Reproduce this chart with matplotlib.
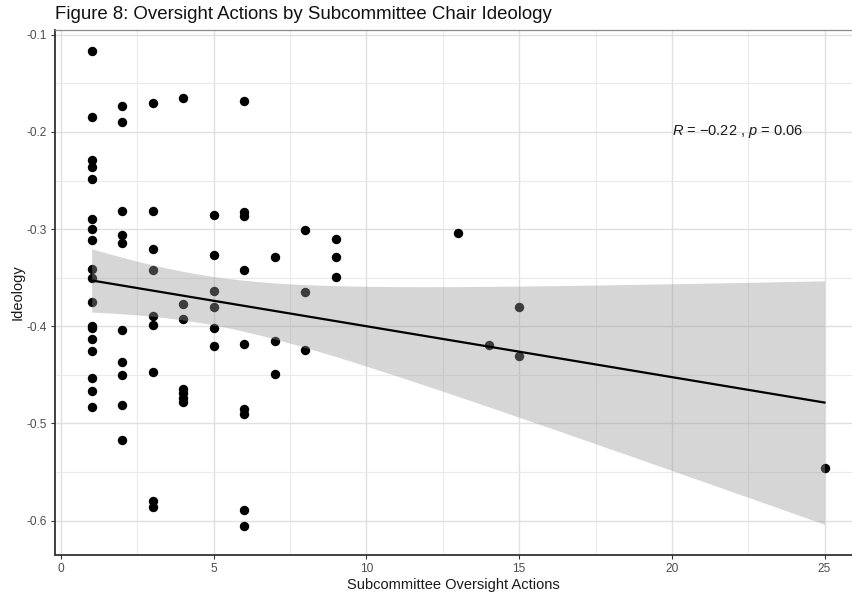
import numpy as np
import matplotlib
matplotlib.use("Agg")
import matplotlib.pyplot as plt
from matplotlib.ticker import MultipleLocator

plt.rcParams['font.family'] = ['Liberation Sans', 'DejaVu Sans']
plt.rcParams['mathtext.fontset'] = 'custom'
plt.rcParams['mathtext.rm'] = 'Liberation Sans'
plt.rcParams['mathtext.it'] = 'Liberation Sans:italic'

# oversight actions per subcommittee chair and the chair's ideology score
actions_1 = [1] * 18
ideology_1 = [-0.117, -0.185, -0.229, -0.236, -0.248, -0.290, -0.300, -0.311, -0.341,
              -0.350, -0.375, -0.400, -0.402, -0.413, -0.425, -0.453, -0.467, -0.483]
actions_2 = [2] * 10
ideology_2 = [-0.173, -0.190, -0.281, -0.306, -0.314, -0.404, -0.437, -0.450, -0.481, -0.517]
actions_3 = [3] * 9
ideology_3 = [-0.170, -0.281, -0.320, -0.342, -0.389, -0.399, -0.447, -0.580, -0.586]
actions_4 = [4] * 7
ideology_4 = [-0.165, -0.377, -0.392, -0.465, -0.469, -0.474, -0.478]
actions_5 = [5] * 6
ideology_5 = [-0.285, -0.327, -0.364, -0.380, -0.402, -0.420]
actions_6 = [6] * 9
ideology_6 = [-0.168, -0.282, -0.286, -0.342, -0.418, -0.485, -0.490, -0.589, -0.606]
actions_7_9 = [7, 7, 7, 8, 8, 8, 9, 9, 9]
ideology_7_9 = [-0.329, -0.415, -0.449, -0.301, -0.365, -0.424, -0.310, -0.329, -0.349]
actions_high = [13, 14, 15, 15, 25]
ideology_high = [-0.304, -0.419, -0.380, -0.431, -0.546]

cor_label = r"$R$ = −0.22 , $p$ = 0.06"

x = np.array(actions_1 + actions_2 + actions_3 + actions_4 + actions_5 + actions_6
             + actions_7_9 + actions_high, dtype=float)
y = np.array(ideology_1 + ideology_2 + ideology_3 + ideology_4 + ideology_5 + ideology_6
             + ideology_7_9 + ideology_high)

# linear fit with 95% confidence band
n = len(x)
slope, intercept = np.polyfit(x, y, 1)
resid = y - (intercept + slope * x)
s = np.sqrt(np.sum(resid ** 2) / (n - 2))
xbar = x.mean()
sxx = np.sum((x - xbar) ** 2)
try:
    from scipy import stats
    tcrit = stats.t.ppf(0.975, n - 2)
except ImportError:
    tcrit = 1.994
xs = np.linspace(x.min(), x.max(), 80)
ys = intercept + slope * xs
half = tcrit * s * np.sqrt(1 / n + (xs - xbar) ** 2 / sxx)

fig = plt.figure(figsize=(8.52, 5.97), dpi=100)
ax = fig.add_axes([0.0646, 0.071, 0.9354, 0.879])

ax.scatter(x, y, s=46, color='black', zorder=3, linewidths=0)
ax.fill_between(xs, ys - half, ys + half, color='#999999', alpha=0.4, linewidth=0, zorder=4)
ax.plot(xs, ys, color='black', lw=1.6, zorder=5)

ax.text(20, -0.2, cor_label, fontsize=10.5, color='#1a1a1a', ha='left', va='center', zorder=6)

ax.set_xlim(-0.2, 25.9)
ax.set_ylim(-0.635, -0.0949)
ax.xaxis.set_major_locator(MultipleLocator(5))
ax.xaxis.set_minor_locator(MultipleLocator(2.5))
ax.yaxis.set_minor_locator(MultipleLocator(0.05))
ax.set_yticks([-0.1, -0.2, -0.3, -0.4, -0.5, -0.6])
ax.set_yticklabels(['-0.1', '-0.2', '-0.3', '-0.4', '-0.5', '-0.6'])

ax.grid(which='major', color='#e0e0e0', lw=1.0, zorder=0)
ax.grid(which='minor', color='#eaeaea', lw=0.8, zorder=0)
ax.set_axisbelow(True)

ax.tick_params(which='major', direction='out', length=3, width=0.8, color='#333333',
               labelsize=8.6, labelcolor='#4d4d4d', pad=3)
ax.tick_params(which='minor', length=0)

for side in ['left', 'bottom']:
    ax.spines[side].set_color('#333333')
    ax.spines[side].set_linewidth(1.3)
ax.spines['top'].set_color('#8a8a8a')
ax.spines['top'].set_linewidth(0.9)
ax.spines['right'].set_visible(False)

ax.set_xlabel('Subcommittee Oversight Actions', fontsize=10.5, color='#1a1a1a', labelpad=2)
ax.set_ylabel('Ideology', fontsize=10.5, color='#1a1a1a', labelpad=1)
ax.set_title('Figure 8: Oversight Actions by Subcommittee Chair Ideology', fontsize=13.4,
             color='#111111', loc='left', pad=8)

fig.savefig('out.png', dpi=100)
